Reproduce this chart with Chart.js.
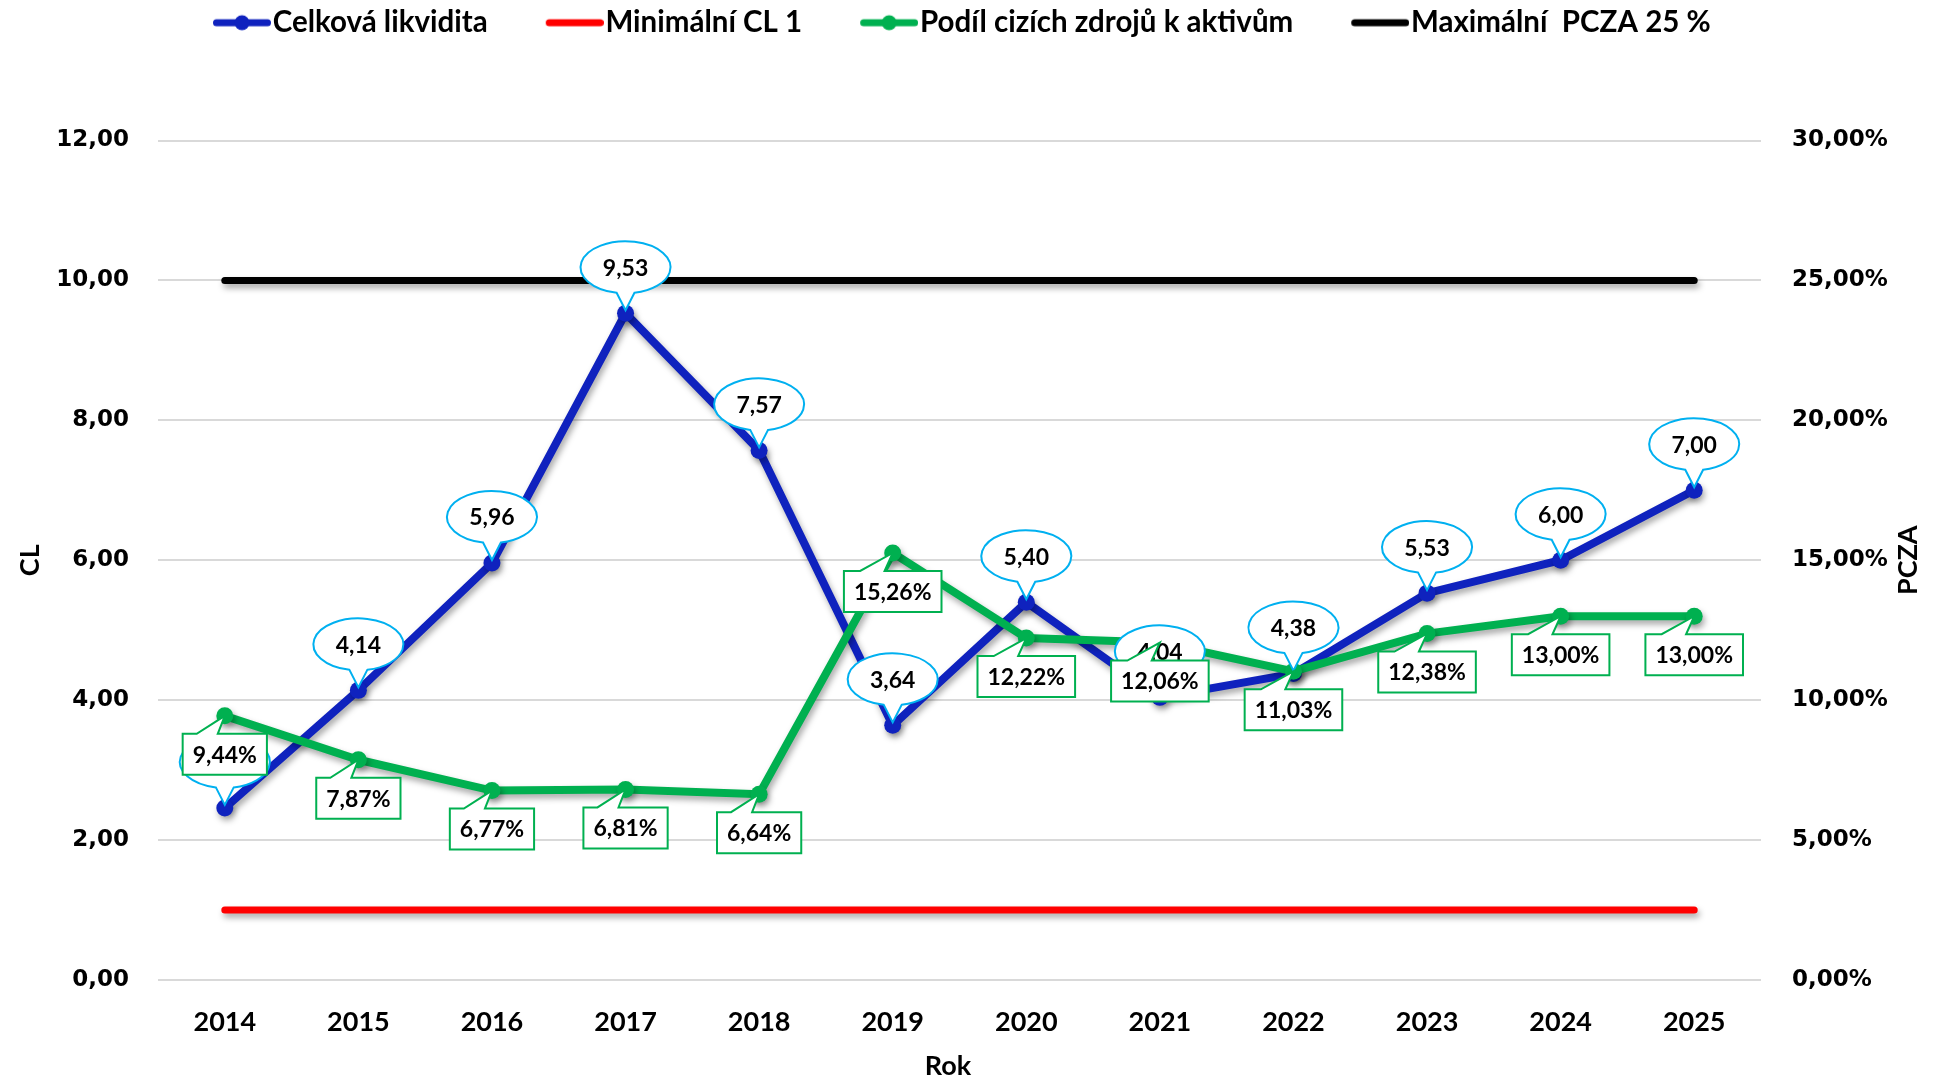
<!DOCTYPE html>
<html lang="cs">
<head>
<meta charset="utf-8">
<title>Celková likvidita a PCZA</title>
<script src="https://cdn.jsdelivr.net/npm/chart.js@4.4.1/dist/chart.umd.min.js"></script>
<style>
  html, body { margin: 0; padding: 0; background: #ffffff; }
  #graf { display: block; }
</style>
</head>
<body>
<canvas id="graf" width="1939" height="1081"></canvas>
<script>
// Data
const roky = ['2014', '2015', '2016', '2017', '2018', '2019', '2020', '2021', '2022', '2023', '2024', '2025'];
const celkovaLikvidita = [2.46, 4.14, 5.96, 9.53, 7.57, 3.64, 5.40, 4.04, 4.38, 5.53, 6.00, 7.00];
const minimalniCL = [1, 1, 1, 1, 1, 1, 1, 1, 1, 1, 1, 1];
const podilCizichZdroju = [9.44, 7.87, 6.77, 6.81, 6.64, 15.26, 12.22, 12.06, 11.03, 12.38, 13.00, 13.00];
const maximalniPCZA = [25, 25, 25, 25, 25, 25, 25, 25, 25, 25, 25, 25];

// Osy
const osaCL = { min: 0, max: 12, krok: 2 };
const osaPCZA = { min: 0, max: 30, krok: 5 };

const MODRA = '#0F22BE';
const CERVENA = '#FF0000';
const ZELENA = '#00B050';
const CERNA = '#000000';
const SVETLE_MODRA = '#00B0F0';

const PISMO = 'Lato';

function formatCZ(val) {
    return val.toFixed(2).replace('.', ',');
}

// Ikona legendy: čára (+ bod), zarovnaná k pravému okraji obrázku
function legendIkona(barva, sBodem) {
    const c = document.createElement('canvas');
    c.width = 121;
    c.height = 20;
    const g = c.getContext('2d');
    g.strokeStyle = barva;
    g.lineWidth = 7;
    g.lineCap = 'round';
    g.beginPath();
    g.moveTo(66.5, 10);
    g.lineTo(117.5, 10);
    g.stroke();
    if (sBodem) {
        g.fillStyle = barva;
        g.beginPath();
        g.arc(92, 10, 7.5, 0, Math.PI * 2);
        g.fill();
    }
    return c;
}

// Stín pod čarami (jako v Excelu)
const stinPlugin = {
    id: 'stin',
    beforeDatasetDraw(chart) {
        const ctx = chart.ctx;
        ctx.save();
        ctx.shadowColor = 'rgba(0,0,0,0.35)';
        ctx.shadowBlur = 6;
        ctx.shadowOffsetX = 2;
        ctx.shadowOffsetY = 4;
    },
    afterDatasetDraw(chart) {
        chart.ctx.restore();
    }
};

// Legenda začíná u levého okraje grafu
const legendaPlugin = {
    id: 'legendaPozice',
    afterLayout(chart) {
        const lg = chart.legend;
        const w = lg.right - lg.left;
        lg.left = chart.chartArea.left - 3;
        lg.right = lg.left + w;
    }
};

// Popisky dat - bubliny
const popiskyPlugin = {
    id: 'popisky',
    afterDatasetsDraw(chart) {
        const ctx = chart.ctx;
        ctx.save();
        ctx.font = `bold 23px ${PISMO}`;
        ctx.textAlign = 'center';
        ctx.textBaseline = 'middle';

        // Celková likvidita - elipsa nad bodem
        const metaCL = chart.getDatasetMeta(0);
        metaCL.data.forEach((pt, i) => {
            const cx = pt.x, cy = pt.y - 46;
            const rx = 45, ry = 26, d = 0.2;
            ctx.beginPath();
            ctx.ellipse(cx, cy, rx, ry, 0, Math.PI / 2 + d, Math.PI / 2 - d);
            ctx.lineTo(pt.x, pt.y - 3);
            ctx.closePath();
            ctx.fillStyle = '#ffffff';
            ctx.fill();
            ctx.lineWidth = 2;
            ctx.strokeStyle = SVETLE_MODRA;
            ctx.stroke();
            ctx.fillStyle = '#000000';
            ctx.fillText(formatCZ(celkovaLikvidita[i]), cx, cy + 1);
        });

        // PCZA - obdélník pod bodem
        const metaPCZA = chart.getDatasetMeta(2);
        metaPCZA.data.forEach((pt, i) => {
            const txt = formatCZ(podilCizichZdroju[i]) + '%';
            const w = ctx.measureText(txt).width + 20;
            const h = 41;
            const left = pt.x - w / 2, top = pt.y + 18;
            ctx.beginPath();
            ctx.moveTo(left, top);
            ctx.lineTo(left + w * 2 / 12, top);
            ctx.lineTo(pt.x, pt.y);
            ctx.lineTo(left + w * 5 / 12, top);
            ctx.lineTo(left + w, top);
            ctx.lineTo(left + w, top + h);
            ctx.lineTo(left, top + h);
            ctx.closePath();
            ctx.fillStyle = '#ffffff';
            ctx.fill();
            ctx.lineWidth = 2;
            ctx.strokeStyle = ZELENA;
            ctx.stroke();
            ctx.fillStyle = '#000000';
            ctx.fillText(txt, pt.x, top + h / 2 + 1);
        });
        ctx.restore();
    }
};

// Názvy os: PCZA (čteno zdola nahoru) a Rok
const nazvyOsPlugin = {
    id: 'nazvyOs',
    afterDraw(chart) {
        const ctx = chart.ctx;
        const area = chart.chartArea;
        ctx.save();
        ctx.font = `bold 27px ${PISMO}`;
        ctx.fillStyle = '#000000';
        ctx.textAlign = 'center';
        ctx.textBaseline = 'middle';
        ctx.fillText('Rok', 948, 1066);
        ctx.translate(1908, (area.top + area.bottom) / 2);
        ctx.rotate(-Math.PI / 2);
        ctx.fillText('PCZA', 0, 0);
        ctx.restore();
    }
};

const ikony = [
    legendIkona(MODRA, true),
    legendIkona(CERVENA, false),
    legendIkona(ZELENA, true),
    legendIkona(CERNA, false)
];

new Chart(document.getElementById('graf'), {
    type: 'line',
    data: {
        labels: roky,
        datasets: [
            {
                label: 'Celková likvidita',
                data: celkovaLikvidita,
                yAxisID: 'y',
                borderColor: MODRA,
                backgroundColor: MODRA,
                borderWidth: 8,
                pointRadius: 8.5,
                pointBackgroundColor: MODRA,
                pointBorderWidth: 0,
                tension: 0,
                order: 2
            },
            {
                label: 'Minimální CL 1',
                data: minimalniCL,
                yAxisID: 'y',
                borderColor: CERVENA,
                backgroundColor: CERVENA,
                borderWidth: 7,
                borderCapStyle: 'round',
                pointRadius: 0,
                order: 3
            },
            {
                label: 'Podíl cizích zdrojů k aktivům',
                data: podilCizichZdroju,
                yAxisID: 'y1',
                borderColor: ZELENA,
                backgroundColor: ZELENA,
                borderWidth: 8,
                pointRadius: 8.5,
                pointBackgroundColor: ZELENA,
                pointBorderWidth: 0,
                tension: 0,
                order: 1
            },
            {
                label: 'Maximální  PCZA 25 %',
                data: maximalniPCZA,
                yAxisID: 'y1',
                borderColor: CERNA,
                backgroundColor: CERNA,
                borderWidth: 7,
                borderCapStyle: 'round',
                pointRadius: 0,
                order: 3
            }
        ]
    },
    options: {
        responsive: false,
        animation: false,
        devicePixelRatio: 1,
        layout: { padding: 0 },
        plugins: {
            legend: {
                position: 'top',
                align: 'start',
                weight: 3000,
                labels: {
                    usePointStyle: true,
                    pointStyleWidth: 95,
                    padding: 8,
                    color: '#000000',
                    font: { family: PISMO, size: 29.5, weight: 'bold' },
                    sort: (a, b) => a.datasetIndex - b.datasetIndex,
                    generateLabels(chart) {
                        const items = Chart.defaults.plugins.legend.labels.generateLabels(chart);
                        items.forEach(it => { it.pointStyle = ikony[it.datasetIndex]; });
                        return items;
                    }
                }
            },
            title: {
                display: true,
                text: '',
                weight: 2000,
                font: { size: 10, lineHeight: 1 },
                padding: { top: 0, bottom: 83 }
            },
            tooltip: { enabled: false }
        },
        scales: {
            x: {
                offset: true,
                grid: { display: false, drawTicks: false },
                border: { display: false },
                ticks: {
                    color: '#000000',
                    padding: 26,
                    font: { family: PISMO, size: 27, weight: 'bold' }
                },
                afterFit(scale) { scale.height = 101; }
            },
            y: {
                position: 'left',
                min: osaCL.min,
                max: osaCL.max,
                grid: { color: '#D9D9D9', lineWidth: 2, drawTicks: false },
                border: { display: false },
                ticks: {
                    stepSize: osaCL.krok,
                    color: '#000000',
                    padding: 29,
                    font: { family: 'DejaVu Sans', size: 23, weight: 'bold' },
                    callback: v => formatCZ(v)
                },
                title: {
                    display: true,
                    text: 'CL',
                    color: '#000000',
                    padding: { top: 17, bottom: 0 },
                    font: { family: PISMO, size: 27, weight: 'bold', lineHeight: 1 }
                },
                afterFit(scale) { scale.width = 158; }
            },
            y1: {
                position: 'right',
                min: osaPCZA.min,
                max: osaPCZA.max,
                grid: { display: false, drawTicks: false },
                border: { display: false },
                ticks: {
                    stepSize: osaPCZA.krok,
                    color: '#000000',
                    padding: 31,
                    font: { family: 'DejaVu Sans', size: 23, weight: 'bold' },
                    callback: v => formatCZ(v) + '%'
                },
                afterFit(scale) { scale.width = 178; }
            }
        }
    },
    plugins: [stinPlugin, legendaPlugin, popiskyPlugin, nazvyOsPlugin]
});
</script>
</body>
</html>
